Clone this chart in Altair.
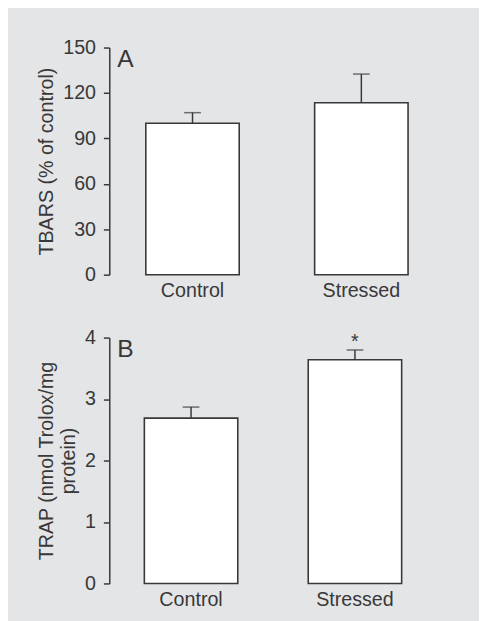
import altair as alt
import pandas as pd

groups = ["Control", "Stressed"]
tbars_mean = [100, 113.5]
tbars_upper = [107, 132.5]
trap_mean = [2.69, 3.64]
trap_upper = [2.87, 3.80]
trap_sig = ["", "*"]

INK = "#383838"
BG = "#e4e5e7"
FONT = "Liberation Sans"

df_a = pd.DataFrame({"group": groups, "mean": tbars_mean, "upper": tbars_upper})
df_b = pd.DataFrame({"group": groups, "mean": trap_mean, "upper": trap_upper, "sig": trap_sig})


def panel(df, ydomain, ystep, ytitle, letter, width, height, pi, po, sig=False):
    xenc = alt.X("group:N", sort=groups,
                 scale=alt.Scale(paddingInner=pi, paddingOuter=po),
                 axis=alt.Axis(title=None, domain=False, ticks=False, tickSize=0,
                               labelAngle=0, labelPadding=6))
    yscale = alt.Scale(domain=ydomain, nice=False, zero=True)
    yaxis = alt.Axis(title=ytitle, values=list(range(ydomain[0], ydomain[1] + 1, ystep)),
                     format="d",
                     grid=False, domainColor=INK, domainWidth=1.5, tickColor=INK,
                     tickWidth=1.5, tickSize=6, labelPadding=8, titlePadding=6)
    base = alt.Chart(df)
    bars = base.mark_bar(size=95, fill="white", stroke=INK, strokeWidth=1.6).encode(
        x=xenc, y=alt.Y("mean:Q", scale=yscale, axis=yaxis))
    stem = base.mark_rule(color=INK, strokeWidth=1.5).encode(
        x=alt.X("group:N", sort=groups), y="mean:Q", y2="upper:Q")
    cap = base.mark_tick(color=INK, size=17, thickness=1.5, orient="horizontal").encode(
        x=alt.X("group:N", sort=groups), y="upper:Q")
    lab = alt.Chart(pd.DataFrame({"t": [letter]})).mark_text(
        align="left", baseline="middle", fontSize=25, font=FONT, color=INK).encode(
        x=alt.value(8), y=alt.value(12), text="t:N")
    layers = [bars, stem, cap, lab]
    if sig:
        star = base.mark_text(baseline="bottom", fontSize=20, font=FONT, color=INK, dy=2).encode(
            x=alt.X("group:N", sort=groups), y="upper:Q", text="sig:N")
        layers.append(star)
    return alt.layer(*layers).properties(width=width, height=height)


a = panel(df_a, [0, 150], 30, "TBARS (% of control)", "A", 341, 231, 0.446, 0.216)
b = panel(df_b, [0, 4], 1, ["TRAP (nmol Trolox/mg", "protein)"], "B", 333, 250, 0.432, 0.215, sig=True)

chart = alt.vconcat(a, b, spacing=28).properties(
    background=BG,
    padding={"left": 28, "top": 25, "right": 35, "bottom": 8},
).configure_view(stroke=None).configure_axis(
    labelFont=FONT, titleFont=FONT, labelFontSize=20, titleFontSize=20,
    labelColor=INK, titleColor=INK, titleFontWeight="normal", titleLineHeight=23,
).configure_text(font=FONT)

chart.save("out.html", embed_options={"renderer": "svg", "actions": False})
